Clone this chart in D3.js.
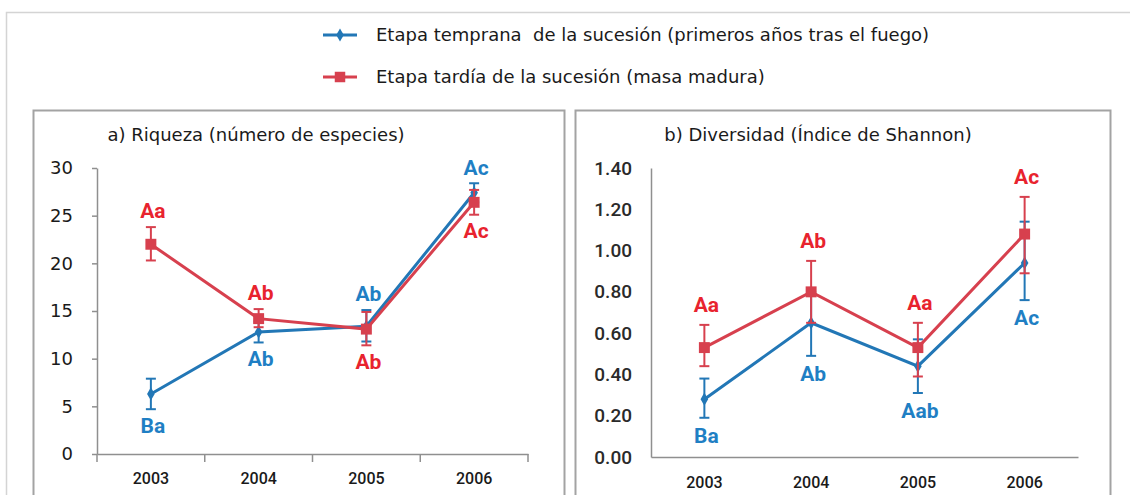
<!DOCTYPE html>
<html>
<head>
<meta charset="utf-8">
<script src="https://cdn.jsdelivr.net/npm/d3@7"></script>
<style>
  body { margin: 0; background: #fff; }
  svg { display: block; }
</style>
</head>
<body>
<script>
'use strict';

// ---- data ----
const years = ["2003", "2004", "2005", "2006"];

// a) riqueza (numero de especies)
const riqEarly = [6.3, 12.8, 13.4, 27.4];
const riqEarlyLo = [4.7, 11.7, 11.8, 26.4];
const riqEarlyHi = [7.9, 13.9, 15.1, 28.4];
const riqLate = [22.0, 14.2, 13.1, 26.4];
const riqLateLo = [20.3, 13.3, 11.4, 25.1];
const riqLateHi = [23.8, 15.2, 14.9, 27.7];
const riqEarlyLetters = ["Ba", "Ab", "Ab", "Ac"];
const riqEarlySide = ["down", "down", "up", "up"];
const riqLateLetters = ["Aa", "Ab", "Ab", "Ac"];
const riqLateSide = ["up", "up", "down", "down"];
const riqTicks = [0, 5, 10, 15, 20, 25, 30];

// b) diversidad (indice de Shannon)
const divEarly = [0.28, 0.65, 0.44, 0.94];
const divEarlyLo = [0.19, 0.49, 0.31, 0.76];
const divEarlyHi = [0.38, 0.80, 0.57, 1.14];
const divLate = [0.53, 0.80, 0.53, 1.08];
const divLateLo = [0.44, 0.65, 0.39, 0.89];
const divLateHi = [0.64, 0.95, 0.65, 1.26];
const divEarlyLetters = ["Ba", "Ab", "Aab", "Ac"];
const divEarlySide = ["down", "down", "down", "down"];
const divLateLetters = ["Aa", "Ab", "Aa", "Ac"];
const divLateSide = ["up", "up", "up", "up"];
const divTicks = [0, 0.2, 0.4, 0.6, 0.8, 1.0, 1.2, 1.4];

const legendNames = [
  "Etapa temprana  de la sucesión (primeros años tras el fuego)",
  "Etapa tardía de la sucesión (masa madura)"
];

const BLUE = "#2277b6";
const RED = "#d7404e";
const BLUE_TXT = "#1f7fc4";
const RED_TXT = "#e8232e";
const NARROW = "Roboto, 'Liberation Sans', sans-serif";
const SANS = "'DejaVu Sans', Verdana, sans-serif";

let svg = d3.select("body").append("svg")
  .attr("width", 1130)
  .attr("height", 495);

// outer frame (only top + left visible)
svg.append("path")
  .attr("d", "M6.5,500 V12.5 H1130")
  .attr("fill", "none")
  .attr("stroke", "#d4d4d4")
  .attr("stroke-width", 1.5);

// panel boxes
svg.append("rect").attr("x", 33.5).attr("y", 110.5).attr("width", 531).attr("height", 400)
  .attr("fill", "none").attr("stroke", "#a3a3a3").attr("stroke-width", 2);
svg.append("rect").attr("x", 575.5).attr("y", 110.5).attr("width", 535).attr("height", 400)
  .attr("fill", "none").attr("stroke", "#a3a3a3").attr("stroke-width", 2);

makeLegend();

// panel a
let a = drawAxes({
  xRange: [97, 528], yDomain: [0, 30], yRange: [454, 168],
  ticks: riqTicks, fmt: d3.format("d"), yTickSize: 5, xTickSize: 8,
  yFont: "18px " + SANS, yFill: "#1a1a1a", yLabelX: -24,
  xFont: "500 16px " + NARROW, xPad: 19
});
plotSeries(a, riqEarly, riqEarlyLo, riqEarlyHi, BLUE, "diamond");
plotSeries(a, riqLate, riqLateLo, riqLateHi, RED, "square");
addLetters(a, riqEarlyLetters, riqEarlySide, riqEarlyLo, riqEarlyHi, BLUE_TXT, 16);
addLetters(a, riqLateLetters, riqLateSide, riqLateLo, riqLateHi, RED_TXT, 16);
svg.append("text")
  .attr("x", 256).attr("y", 141)
  .attr("text-anchor", "middle")
  .style("font", "18px " + SANS)
  .attr("fill", "#1a1a1a")
  .text("a) Riqueza (número de especies)");

// panel b
let b = drawAxes({
  xRange: [651, 1078], yDomain: [0, 1.4], yRange: [457, 168],
  ticks: divTicks, fmt: d3.format(".2f"), yTickSize: 0, xTickSize: 0,
  yFont: "500 19px " + NARROW, yFill: "#2a2a2a", yLabelX: -19,
  xFont: "500 16px " + NARROW, xPad: 20
});
plotSeries(b, divEarly, divEarlyLo, divEarlyHi, BLUE, "diamond");
plotSeries(b, divLate, divLateLo, divLateHi, RED, "square");
addLetters(b, divEarlyLetters, divEarlySide, divEarlyLo, divEarlyHi, BLUE_TXT, 18);
addLetters(b, divLateLetters, divLateSide, divLateLo, divLateHi, RED_TXT, 20);
svg.append("text")
  .attr("x", 818).attr("y", 141)
  .attr("text-anchor", "middle")
  .style("font", "18px " + SANS)
  .attr("fill", "#1a1a1a")
  .text("b) Diversidad (Índice de Shannon)");

// draw the axes of one panel and return its scales
function drawAxes(o) {
  let x = d3.scaleBand().domain(years).range(o.xRange);
  let y = d3.scaleLinear().domain(o.yDomain).range(o.yRange);
  let x0 = o.xRange[0], y0 = o.yRange[0];

  let yAxis = d3.axisLeft(y).tickValues(o.ticks).tickFormat(o.fmt)
    .tickSize(o.yTickSize).tickSizeOuter(0).tickPadding(0);
  let gy = svg.append("g")
    .attr("transform", "translate(" + x0 + ",0)")
    .call(yAxis);
  gy.select(".domain").attr("stroke", "#8f8f8f").attr("stroke-width", 1.5);
  gy.selectAll(".tick line").attr("stroke", "#8f8f8f").attr("stroke-width", 1.5);
  gy.selectAll(".tick text")
    .attr("x", o.yLabelX)
    .style("font", o.yFont)
    .attr("fill", o.yFill);

  let xAxis = d3.axisBottom(x).tickSize(0).tickSizeOuter(0).tickPadding(o.xPad);
  let gx = svg.append("g")
    .attr("transform", "translate(0," + y0 + ")")
    .call(xAxis);
  gx.select(".domain").attr("stroke", "#8f8f8f").attr("stroke-width", 1.5);
  gx.selectAll(".tick text")
    .style("font", o.xFont)
    .attr("fill", "#1a1a1a");

  // boundary ticks between categories
  if (o.xTickSize > 0) {
    let bounds = years.map((d) => x(d)).concat([o.xRange[1]]);
    gx.selectAll(".bound")
      .data(bounds)
      .enter()
      .append("line")
      .attr("x1", (d) => d).attr("x2", (d) => d)
      .attr("y1", 0).attr("y2", o.xTickSize)
      .attr("stroke", "#8f8f8f")
      .attr("stroke-width", 1.5);
  }
  return { x: x, y: y };
}

// line, error bars and markers of one series
function plotSeries(s, vals, lo, hi, color, shape) {
  let cx = (i) => s.x(years[i]) + s.x.bandwidth() / 2;
  let g = svg.append("g");

  g.append("path")
    .datum(vals)
    .attr("fill", "none")
    .attr("stroke", color)
    .attr("stroke-width", 3)
    .attr("d", d3.line().x((d, i) => cx(i)).y((d) => s.y(d)));

  let eb = g.selectAll(".err")
    .data(vals)
    .enter()
    .append("g");
  eb.append("line")
    .attr("x1", (d, i) => cx(i)).attr("x2", (d, i) => cx(i))
    .attr("y1", (d, i) => s.y(lo[i])).attr("y2", (d, i) => s.y(hi[i]));
  eb.append("line")
    .attr("x1", (d, i) => cx(i) - 5).attr("x2", (d, i) => cx(i) + 5)
    .attr("y1", (d, i) => s.y(lo[i])).attr("y2", (d, i) => s.y(lo[i]));
  eb.append("line")
    .attr("x1", (d, i) => cx(i) - 5).attr("x2", (d, i) => cx(i) + 5)
    .attr("y1", (d, i) => s.y(hi[i])).attr("y2", (d, i) => s.y(hi[i]));
  eb.selectAll("line")
    .attr("stroke", color)
    .attr("stroke-width", 2);

  let sym = shape == "square"
    ? d3.symbol().type(d3.symbolSquare).size(120)
    : d3.symbol().type(d3.symbolDiamond).size(50);
  g.selectAll(".mark")
    .data(vals)
    .enter()
    .append("path")
    .attr("d", sym)
    .attr("transform", (d, i) => "translate(" + cx(i) + "," + s.y(d) + ")")
    .attr("fill", color);
}

// significance letters above / below the error bars
function addLetters(s, letters, side, lo, hi, color, off) {
  svg.append("g").selectAll("text")
    .data(letters)
    .enter()
    .append("text")
    .attr("x", (d, i) => s.x(years[i]) + s.x.bandwidth() / 2 + 2)
    .attr("y", (d, i) => side[i] == "up" ? s.y(hi[i]) - off : s.y(lo[i]) + off)
    .attr("dy", "0.35em")
    .attr("text-anchor", "middle")
    .style("font", "bold 21px " + NARROW)
    .attr("fill", color)
    .text((d) => d);
}

// legend at the top
function makeLegend() {
  let colors = [BLUE, RED];
  let rows = svg.selectAll(".leg")
    .data(legendNames)
    .enter()
    .append("g")
    .attr("transform", (d, i) => "translate(323," + (35 + i * 42) + ")");
  rows.append("line")
    .attr("x1", 0).attr("x2", 34)
    .attr("stroke", (d, i) => colors[i])
    .attr("stroke-width", 3);
  rows.append("path")
    .attr("d", (d, i) => i == 0
      ? d3.symbol().type(d3.symbolDiamond).size(50)()
      : d3.symbol().type(d3.symbolSquare).size(110)())
    .attr("transform", "translate(17,0)")
    .attr("fill", (d, i) => colors[i]);
  rows.append("text")
    .attr("x", 53)
    .attr("dy", "0.35em")
    .style("font", "18px " + SANS)
    .style("white-space", "pre")
    .attr("fill", "#1a1a1a")
    .text((d) => d);
}
</script>
</body>
</html>
